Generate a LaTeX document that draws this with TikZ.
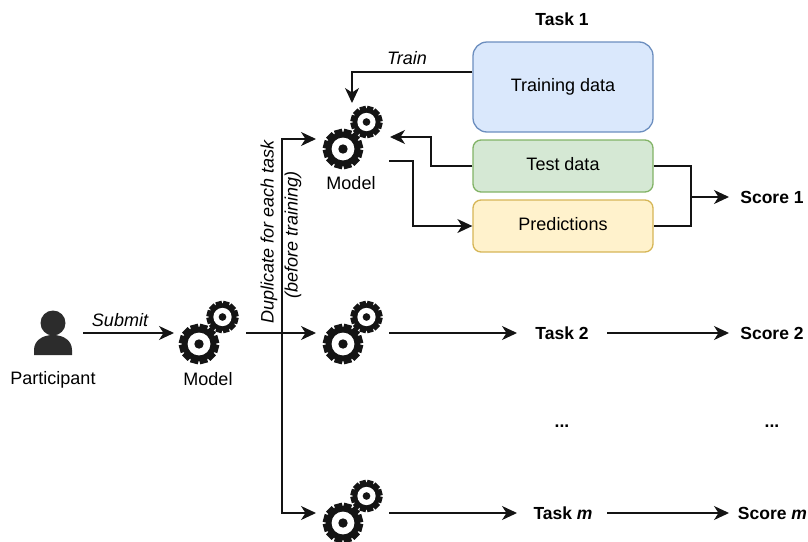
\documentclass[tikz,border=0pt]{standalone}
\usepackage{fontspec}
\setmainfont{Liberation Sans}
\usetikzlibrary{arrows.meta}
\definecolor{inkc}{HTML}{141414}
\definecolor{bf}{HTML}{DAE8FC}\definecolor{bd}{HTML}{6C8EBF}
\definecolor{gf}{HTML}{D5E8D4}\definecolor{gd}{HTML}{82B366}
\definecolor{yf}{HTML}{FFF2CC}\definecolor{yd}{HTML}{D6B656}
\tikzset{
  lbl/.style={font=\fontsize{18}{20}\selectfont,inner sep=0pt,text=black},
  blbl/.style={font=\fontsize{17.5}{20}\selectfont\bfseries,inner sep=0pt,text=black},
  ilbl/.style={font=\fontsize{18}{20}\selectfont\itshape,inner sep=0pt,text=black},
  databox/.style={draw=#1,line width=1.3pt,rounded corners=8pt,inner sep=0pt,text height=12.5pt,text depth=3.5pt,font=\fontsize{18}{20}\selectfont},
  conn/.style={line width=1.4pt,draw=inkc},
  arr/.style={conn,-{Stealth[length=15pt,width=14pt,inset=4.5pt]}},
  onegear/.pic={
    \foreach \a in {0,30,60,90,120,150}{\fill[inkc,rotate=\a+15] (-#1*0.2,-#1) rectangle (#1*0.2,#1);}
    \fill[inkc] (0,0) circle[radius=#1*0.86];
    \fill[white] (0,0) circle[radius=#1*0.57];
    \fill[inkc] (0,0) circle[radius=#1*0.22+0.3];
  },
  gears/.pic={
    \pic at (23.5,-27) {onegear=16};
    \pic at (0,0) {onegear=20};
  }
}
\begin{document}
\begin{tikzpicture}[x=1pt,y=-1pt]
\useasboundingbox (0,0) rectangle (808,541);

% person
\fill[inkc!90!white] (53,323) circle[radius=12.5];
\fill[inkc!90!white] (34,355) -- (34,350) .. controls (34,341) and (42,335) .. (53,335) .. controls (64,335) and (72,341) .. (72,350) -- (72,355) -- cycle;
\node[lbl] (participant) at (53,380) {Participant};

% gears
\pic at (199,344) {gears};
\pic at (343,149) {gears};
\pic at (343,344) {gears};
\pic at (343,523) {gears};

\node[lbl] (model0) at (208,379) {Model};
\node[lbl] (model1) at (351,183) {Model};

% boxes
\node[databox=bd,fill=bf,rounded corners=14pt,minimum width=180pt,minimum height=90pt] (train) at (563,87) {Training data};
\node[databox=gd,fill=gf,minimum width=180pt,minimum height=52pt] (test) at (563,166) {Test data};
\node[databox=yd,fill=yf,minimum width=180pt,minimum height=52pt] (pred) at (563,226) {Predictions};

% text nodes
\node[blbl] (task1) at (562,19) {Task 1};
\node[blbl] (score1) at (772,197) {Score 1};
\node[blbl] (task2) at (562,333) {Task 2};
\node[blbl] (score2) at (772,333) {Score 2};
\node[blbl] (dots1) at (562,426) {...};
\node[blbl] (dots2) at (772,426) {...};
\node[blbl] (taskm) at (563,513) {Task \textit{m}};
\node[blbl] (scorem) at (772.5,513) {Score \textit{m}};
\node[ilbl] (submit) at (120,320) {Submit};
\node[ilbl] (trainl) at (407,58) {Train};
\node[ilbl,rotate=90] (dup) at (269,232) {Duplicate for each task};
\node[ilbl,rotate=90] (before) at (293,234.5) {(before training)};

% connector ends
\coordinate (pout) at (83,333);
\coordinate (m0in) at (174,333);
\coordinate (m0out) at (246,333);
\coordinate (tree) at (282,333);
\coordinate (m1in) at (316,139);
\coordinate (m2in) at (316,333);
\coordinate (m3in) at (316,513);
\coordinate (m1top) at (352,103);
\coordinate (m1r) at (390,137);
\coordinate (m1out) at (389,161);
\coordinate (m2out) at (389,333);
\coordinate (m3out) at (389,513);
\coordinate (join) at (691,197);
\coordinate (t2in) at (517,333);
\coordinate (t2out) at (607,333);
\coordinate (s2in) at (729,333);
\coordinate (t3in) at (517,513);
\coordinate (t3out) at (607,513);
\coordinate (s3in) at (729,513);
\coordinate (s1in) at (729,197);

\draw[arr] (pout) -- (m0in);
\draw[conn] (m0out) -- (tree);
\draw[arr] (tree) |- (m1in);
\draw[arr] (tree) -- (m2in);
\draw[arr] (tree) |- (m3in);
\draw[arr] (train.west |- 0,72) -- (352,72) -- (m1top);
\draw[arr] (test.west) -- (431,166) -- (431,137) -- (m1r);
\draw[arr] (m1out) -- (413,161) -- (413,226) -- (pred.west);
\draw[conn] (test.east) -- (691,166) -- (691,226) -- (pred.east);
\draw[arr] (join) -- (s1in);
\draw[arr] (m2out) -- (t2in);
\draw[arr] (t2out) -- (s2in);
\draw[arr] (m3out) -- (t3in);
\draw[arr] (t3out) -- (s3in);
\end{tikzpicture}
\end{document}
